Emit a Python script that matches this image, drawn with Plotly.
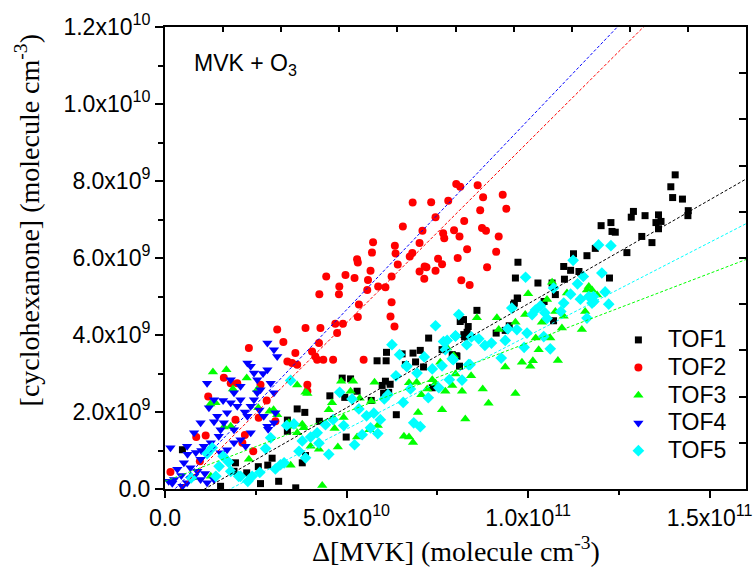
import plotly.graph_objects as go

X_UNIT = 1e10   # x values below are in units of 1e10 molecule cm^-3
Y_UNIT = 1e9    # y values below are in units of 1e9 molecule cm^-3

series_names = ["TOF1", "TOF2", "TOF3", "TOF4", "TOF5"]
series_colors = ["#000000", "#FF0000", "#00FF00", "#0000FF", "#00FFFF"]
series_symbols = ["square", "circle", "triangle-up", "triangle-down", "diamond"]
series_sizes = [7, 8, 9, 9, 9]

tof1_pts = [
    (0.48, 1.02), (1.53, 0.07), (1.90, 0.46), (2.25, 0.42), (2.57, 0.58), (2.63, 0.14),
    (2.83, 0.62), (3.13, 0.20), (2.95, 0.80), (3.37, 1.79), (3.37, 1.50), (3.64, 2.08),
    (3.85, 1.99), (3.78, 0.68), (3.60, 0.03), (1.94, 0.68),
    (7.26, 3.92), (7.63, 3.62), (7.03, 3.60), (6.83, 3.53), (6.90, 3.30), (7.12, 3.17),
    (6.53, 3.51), (6.10, 3.55), (5.84, 3.33), (6.09, 3.33), (6.07, 2.80), (5.98, 2.69),
    (6.20, 2.72), (4.88, 2.88), (5.11, 2.86), (5.29, 2.54), (4.95, 2.38), (4.54, 2.42),
    (5.68, 2.30), (6.37, 1.93), (4.25, 1.76), (4.99, 1.35), (3.87, 0.87), (7.36, 2.63),
    (8.13, 4.35), (8.23, 4.01), (6.62, 3.23), (8.02, 3.46), (6.02, 2.49), (6.16, 2.51),
    (9.60, 4.79), (9.71, 4.95),
    (11.25, 6.11), (11.62, 6.06), (9.72, 5.89), (9.65, 5.48), (10.27, 5.35), (10.98, 5.78),
    (11.17, 5.68), (11.40, 5.65), (11.00, 5.45), (10.66, 5.35), (10.75, 5.05), (9.70, 4.96),
    (9.62, 4.83), (10.44, 4.87), (10.70, 4.37), (8.59, 4.64), (8.22, 4.40), (8.35, 4.22),
    (8.32, 4.07), (8.25, 3.95), (9.12, 4.05), (9.48, 4.24), (9.37, 4.12), (7.91, 3.49),
    (8.04, 3.45), (8.11, 3.19),
    (14.05, 8.16), (13.93, 7.85), (13.98, 7.57), (14.25, 7.53), (14.41, 7.23), (14.40, 7.10),
    (12.90, 7.21), (12.84, 7.06), (13.22, 7.10), (13.59, 7.12), (13.66, 6.95), (13.52, 6.92),
    (13.59, 6.76), (12.28, 6.92), (12.01, 6.84), (12.31, 6.69), (12.40, 6.67), (13.13, 6.56),
    (13.41, 6.40), (12.72, 6.14), (11.85, 6.25), (12.24, 5.48),
]

tof2_pts = [
    (0.15, 0.44), (0.86, 1.35), (0.96, 0.72), (1.12, 1.39), (1.19, 2.40), (1.62, 2.89),
    (1.81, 2.75), (1.99, 2.75), (2.31, 3.66), (2.20, 1.40), (2.13, 1.20), (1.94, 1.80),
    (2.43, 0.98), (2.63, 2.71), (2.58, 1.85), (2.80, 2.30), (3.04, 1.76), (3.09, 4.14),
    (3.26, 3.82), (3.37, 3.31), (3.50, 3.27), (3.59, 3.53), (3.64, 3.23),
    (3.92, 2.71), (3.92, 2.54), (4.05, 3.57), (4.14, 3.44), (4.19, 3.36), (4.24, 3.79),
    (4.36, 3.36), (4.63, 3.36), (5.47, 3.36),
    (3.87, 4.18), (4.28, 4.18), (4.69, 4.29), (4.74, 4.05), (4.90, 4.29), (4.25, 5.06),
    (4.44, 5.52), (4.79, 5.06), (4.80, 5.26), (4.97, 5.56), (5.22, 5.48), (5.29, 5.97),
    (5.31, 5.88), (5.34, 4.79), (5.31, 4.47), (5.57, 5.17), (5.59, 5.43), (5.66, 5.67),
    (5.70, 6.14), (5.73, 6.41), (5.87, 5.26), (6.07, 5.24), (6.21, 4.48), (6.32, 4.22),
    (6.24, 4.85), (6.24, 5.52), (6.35, 6.12), (6.33, 6.32), (6.41, 5.83), (6.55, 6.82),
    (6.74, 6.04), (6.81, 6.13), (6.82, 7.44), (7.01, 6.39), (7.01, 5.65), (7.09, 6.71),
    (7.14, 5.46), (7.15, 5.78), (7.20, 5.76), (7.33, 7.45), (7.45, 7.06), (7.45, 5.67),
    (7.52, 5.98), (7.63, 5.84), (7.66, 6.64), (7.69, 6.51), (7.80, 7.49),
    (8.02, 7.92), (8.13, 7.85), (8.61, 7.89), (8.76, 7.58), (9.30, 7.64), (9.40, 7.28),
    (8.68, 7.24), (8.24, 6.96), (7.96, 6.72), (8.11, 6.56), (8.73, 6.78), (8.84, 6.71),
    (9.19, 6.56), (8.32, 6.23), (9.12, 6.16), (8.06, 6.00), (8.87, 5.76), (8.16, 5.42),
    (8.39, 5.30),
]

tof3_pts = [
    (1.32, 3.04), (1.69, 3.10), (1.39, 2.24), (1.25, 2.21), (2.25, 2.88), (2.57, 2.11),
    (2.99, 2.06), (3.64, 2.70), (3.87, 2.51), (3.78, 1.68), (2.31, 0.77), (3.46, 0.62),
    (0.75, 0.29), (1.62, 1.61), (3.09, 1.93), (3.41, 1.72), (3.50, 1.63), (3.64, 1.46),
    (1.26, 0.33), (2.54, 2.58), (1.81, 1.63), (1.87, 2.60), (2.88, 2.02),
    (3.92, 2.48), (3.82, 1.59), (4.51, 2.06), (4.60, 2.24), (4.67, 1.57), (4.01, 1.11),
    (4.24, 1.03), (4.76, 1.09), (4.85, 2.80), (5.18, 2.80), (5.11, 2.54), (5.36, 2.36),
    (5.68, 2.28), (5.77, 2.77), (5.29, 1.35), (4.92, 1.86), (5.86, 1.65), (5.63, 1.54),
    (4.33, 0.09), (6.58, 1.37), (6.72, 1.35), (6.83, 1.21), (6.72, 2.76), (6.93, 2.77),
    (6.97, 1.99), (7.22, 2.60), (7.36, 2.84), (7.45, 2.75), (7.63, 2.06), (7.72, 2.54),
    (7.58, 3.29), (7.06, 2.45),
    (10.66, 5.37), (10.00, 5.07), (10.52, 4.92), (11.07, 5.09), (11.67, 5.26), (11.57, 4.61),
    (9.92, 4.53), (9.14, 4.45), (9.65, 4.33), (10.38, 4.33), (10.75, 4.61), (10.98, 4.49),
    (10.93, 4.18), (11.48, 4.14), (10.21, 3.92), (10.61, 3.92), (10.29, 3.62), (9.83, 3.29),
    (10.13, 3.33), (10.06, 3.19), (10.82, 3.34), (9.37, 3.17), (8.59, 4.45), (9.19, 4.14),
    (9.65, 2.48), (8.75, 2.60), (8.43, 2.94), (8.18, 2.54), (8.91, 2.23), (8.27, 1.82),
    (7.91, 2.69), (8.00, 2.99), (7.95, 3.46), (7.77, 3.66), (11.62, 5.17), (11.76, 5.17),
    (11.90, 5.04),
]

tof4_pts = [
    (0.15, 1.07), (0.25, 0.25), (0.48, 0.07), (0.61, 0.16), (0.89, 0.46), (0.98, 0.77),
    (1.16, 2.75), (1.21, 2.11), (1.35, 2.32), (1.44, 1.89), (1.48, 1.37), (1.07, 1.11),
    (1.26, 1.20), (1.53, 1.54), (1.62, 1.72), (1.71, 1.98), (1.81, 2.24), (1.90, 2.50),
    (1.99, 2.15), (2.08, 2.32), (2.27, 3.27), (2.36, 3.19), (2.45, 3.01), (2.54, 2.84),
    (2.63, 2.58), (2.82, 3.10), (2.91, 2.75), (3.00, 2.50), (2.82, 3.79), (3.00, 3.62),
    (3.09, 3.44), (2.72, 1.89), (2.82, 1.63), (2.36, 1.46), (2.22, 1.11), (2.08, 1.28),
    (1.90, 1.54), (0.98, 1.72), (0.80, 1.46), (0.61, 1.11), (0.52, 0.68), (0.34, 0.51),
    (0.80, 0.33), (0.98, 0.25), (1.16, 0.16), (1.35, 0.25), (1.53, 0.94), (1.71, 1.02),
    (1.90, 1.20), (2.54, 2.50), (2.45, 2.32), (2.27, 1.89), (2.36, 2.15), (2.08, 2.67),
    (1.81, 2.84), (3.00, 1.72), (0.45, 0.35), (0.70, 0.55), (0.85, 0.95), (1.00, 1.00),
    (0.62, 0.90), (1.10, 0.40), (0.20, 0.15), (0.10, 0.20), (2.20, 2.00), (2.60, 2.05),
    (1.60, 2.30), (1.35, 1.75), (2.70, 3.00), (3.04, 1.98), (2.84, 1.55),
]

tof5_pts = [
    (0.72, 0.29), (1.16, 0.92), (1.30, 1.07), (1.40, 0.33), (1.49, 0.59), (1.60, 0.85),
    (1.75, 0.70), (2.08, 0.33), (2.28, 0.20), (2.40, 0.33), (2.61, 0.43), (2.77, 1.05),
    (2.91, 1.33), (3.04, 0.52), (3.18, 0.63), (3.28, 0.68), (3.35, 1.65), (3.55, 1.69),
    (3.78, 1.25), (3.46, 2.82), (1.81, 0.46), (2.03, 0.33), (3.69, 0.98),
    (6.25, 3.75), (6.46, 3.49), (6.65, 3.20), (6.94, 3.01), (7.14, 3.43), (7.36, 3.12),
    (7.63, 3.20), (7.72, 3.62), (7.54, 2.63), (6.36, 2.94), (6.76, 2.60), (6.56, 2.25),
    (6.14, 2.45), (6.04, 2.34), (5.93, 1.80), (5.86, 1.44), (5.66, 1.59), (5.75, 1.97),
    (5.55, 1.90), (5.34, 2.08), (5.15, 2.34), (4.81, 2.51), (4.63, 1.80), (4.92, 1.65),
    (4.42, 1.67), (4.19, 1.46), (4.01, 1.35), (4.24, 1.19), (5.22, 1.15), (5.43, 1.41),
    (4.51, 0.90), (3.87, 0.81), (6.85, 1.72), (7.03, 1.62),
    (7.45, 4.24), (7.67, 3.83), (8.00, 3.97), (7.94, 3.36), (8.36, 3.23), (6.66, 3.18),
    (7.25, 2.37), (11.62, 4.44), (11.80, 5.00),
    (11.24, 5.94), (9.93, 5.50), (11.52, 5.52), (11.36, 5.33), (10.70, 5.22), (11.17, 5.06),
    (11.44, 4.93), (11.67, 5.00), (11.76, 4.83), (10.98, 4.83), (10.90, 4.61), (10.46, 4.58),
    (10.20, 4.65), (10.11, 4.53), (10.34, 4.76), (9.97, 4.05), (9.55, 4.70), (10.52, 4.43),
    (10.43, 3.96), (10.61, 3.64), (9.89, 3.68), (9.26, 3.40), (9.69, 4.14), (9.44, 4.16),
    (9.37, 3.86), (8.99, 3.79), (8.81, 3.73), (8.64, 3.90), (8.44, 3.95), (8.31, 3.75),
    (8.00, 3.98), (8.09, 4.53), (7.77, 3.86), (7.91, 3.38), (8.40, 3.23), (7.83, 2.84),
    (8.18, 2.83),
    (11.94, 6.34), (12.28, 6.32), (12.03, 5.61), (12.12, 5.12), (12.22, 4.80), (11.81, 4.87),
]

# linear fit lines (slope in 1e9 per 1e10, intercept in 1e9)
fit_slopes = [0.54, 0.940, 0.36, 0.985, 0.485]
fit_intercepts = [-0.59, -0.386, 0.20, -0.27, -0.87]
fit_x_range = [0.0, 16.0]

x_tickvals = [0, 5e10, 1e11, 1.5e11]
x_ticktext = ["0.0", "5.0x10<sup>10</sup>", "1.0x10<sup>11</sup>", "1.5x10<sup>11</sup>"]
y_tickvals = [0, 2e9, 4e9, 6e9, 8e9, 1e10, 1.2e10]
y_ticktext = ["0.0", "2.0x10<sup>9</sup>", "4.0x10<sup>9</sup>", "6.0x10<sup>9</sup>",
              "8.0x10<sup>9</sup>", "1.0x10<sup>10</sup>", "1.2x10<sup>10</sup>"]
x_range = [0, 1.6e11]
y_range = [0, 1.2e10]

x_title = "Δ[MVK] (molecule cm<sup>-3</sup>)"
y_title = "[cyclohexanone] (molecule cm<sup>-3</sup>)"

all_pts = [tof1_pts, tof2_pts, tof3_pts, tof4_pts, tof5_pts]

fig = go.Figure()
for name, pts, col, sym, sz in zip(series_names, all_pts, series_colors, series_symbols, series_sizes):
    fig.add_trace(go.Scatter(
        x=[p[0] * X_UNIT for p in pts], y=[p[1] * Y_UNIT for p in pts],
        mode="markers", name="<span style='font-size:23px'>" + name + "</span>",
        marker=dict(symbol=sym, size=sz, color=col, line=dict(width=0)),
    ))

for col, m, b in zip(series_colors, fit_slopes, fit_intercepts):
    xs = fit_x_range
    fig.add_trace(go.Scatter(
        x=[v * X_UNIT for v in xs], y=[(m * v + b) * Y_UNIT for v in xs],
        mode="lines", showlegend=False, hoverinfo="skip",
        line=dict(color=col, width=1, dash="3px,2px"),
    ))

# dummy trace to activate top/right tick axes
fig.add_trace(go.Scatter(x=[None], y=[None], xaxis="x2", yaxis="y2",
                         showlegend=False, hoverinfo="skip"))

tick_font = dict(family="Liberation Sans, Arial", size=23, color="black")
title_font = dict(family="Liberation Serif, Times New Roman", size=28, color="black")

fig.update_layout(
    width=754, height=574,
    margin=dict(l=165, r=8, t=27, b=85),
    paper_bgcolor="white", plot_bgcolor="white",
    showlegend=True,
    legend=dict(x=0.764, y=0.3635, xanchor="left", yanchor="top", itemwidth=49,
                font=dict(family="Liberation Sans, Arial", size=19, color="black"),
                bgcolor="rgba(0,0,0,0)", borderwidth=0, tracegroupgap=0),
    xaxis=dict(range=x_range, tickmode="array", tickvals=x_tickvals, ticktext=x_ticktext,
               ticks="outside", ticklen=7, tickwidth=1.5, tickcolor="black",
               minor=dict(tickmode="linear", tick0=0, dtick=2.5e10, ticks="outside",
                          ticklen=4, tickwidth=1.5, tickcolor="black"),
               showline=True, linecolor="black", linewidth=2, mirror=True,
               showgrid=False, zeroline=False, tickfont=tick_font, automargin=False),
    yaxis=dict(range=y_range, tickmode="array", tickvals=y_tickvals, ticktext=y_ticktext,
               ticks="outside", ticklen=8, tickwidth=1.5, tickcolor="black",
               minor=dict(tickmode="linear", tick0=0, dtick=1e9, ticks="outside",
                          ticklen=5, tickwidth=1.5, tickcolor="black"),
               showline=True, linecolor="black", linewidth=2, mirror=True,
               showgrid=False, zeroline=False, tickfont=tick_font, automargin=False),
    xaxis2=dict(range=x_range, overlaying="x", side="top", anchor="y",
                tickmode="linear", tick0=0, dtick=1.6e10, ticks="inside", ticklen=5,
                tickwidth=1.5, tickcolor="black", showticklabels=False, automargin=False,
                showgrid=False, zeroline=False, showline=False),
    yaxis2=dict(range=y_range, overlaying="y", side="right", anchor="x",
                tickmode="linear", tick0=0, dtick=1.2e9, ticks="inside", ticklen=7,
                tickwidth=1.5, tickcolor="black", showticklabels=False, automargin=False,
                showgrid=False, zeroline=False, showline=False),
    annotations=[
        dict(text="MVK + O<sub>3</sub>", xref="paper", yref="paper",
             x=0.047, y=0.918, xanchor="left", yanchor="middle", showarrow=False,
             font=dict(family="Liberation Sans, Arial", size=23, color="black")),
        dict(text=x_title, xref="paper", yref="paper", x=0.5, y=-0.130,
             xanchor="center", yanchor="middle", showarrow=False, font=title_font),
        dict(text=y_title, xref="paper", yref="paper", x=-0.237, y=0.582, textangle=-90,
             xanchor="center", yanchor="middle", showarrow=False, font=title_font),
    ],
)

fig.write_html("out.html", config={"displayModeBar": False},
               post_script="document.body.style.margin='0';document.body.style.overflow='hidden';")
